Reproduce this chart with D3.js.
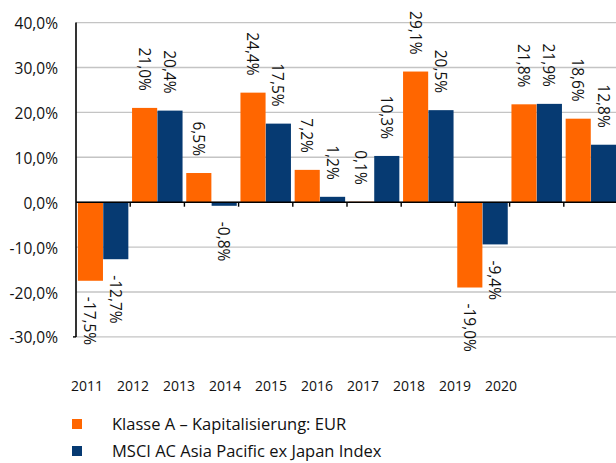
<!DOCTYPE html>
<html>
<head>
<meta charset="utf-8">
<script src="https://cdn.jsdelivr.net/npm/d3@7"></script>
<style>
  body { margin: 0; background: #fff; }
  svg { display: block; font-family: "Open Sans", sans-serif; }
</style>
</head>
<body>
<svg id="mainsvg" width="616" height="463"></svg>
<script>
const years = ['2011', '2012', '2013', '2014', '2015', '2016', '2017', '2018', '2019', '2020'];
const fundValues = [-17.5, 21.0, 6.5, 24.4, 7.2, 0.1, 29.1, -19.0, 21.8, 18.6];
const indexValues = [-12.7, 20.4, -0.8, 17.5, 1.2, 10.3, 20.5, -9.4, 21.9, 12.8];
const seriesNames = ['Klasse A – Kapitalisierung: EUR', 'MSCI AC Asia Pacific ex Japan Index'];
const yTicks = [40, 30, 20, 10, 0, -10, -20, -30];

const colors = ['#ff6600', '#063a72'];

const svg = d3.select('#mainsvg');
const width = +svg.attr('width');

const data = years.map((y, i) => ({ year: y, values: [fundValues[i], indexValues[i]] }));

// German style: comma decimal, plain hyphen for negatives
const deLocale = d3.formatLocale({ decimal: ',', thousands: '.', grouping: [3], currency: ['', ' €'], minus: '-' });
const fmt = v => deLocale.format('.1f')(v) + '%';

const xScale = d3.scaleBand().domain(years).range([76, 618]).padding(0);
const xSub = d3.scaleBand().domain([0, 1]).range([1.6, xScale.bandwidth() - 1.6]).padding(0.01);
const yScale = d3.scaleLinear().domain([-30, 40]).range([336.9, 22.6]);

// x labels sit on their own spacing in the reference
const xLabelScale = d3.scalePoint().domain(years).range([87, 501]);

// gridlines
svg.append('g').selectAll('line').data(yTicks).join('line')
  .attr('x1', 76).attr('x2', width)
  .attr('y1', d => yScale(d)).attr('y2', d => yScale(d))
  .attr('stroke', '#c4c4c4').attr('stroke-width', 1.4);

// y labels
svg.append('g').selectAll('text').data(yTicks).join('text')
  .attr('x', 58).attr('y', d => yScale(d) + 6.5)
  .attr('text-anchor', 'end')
  .attr('font-size', 15.5).attr('fill', '#111')
  .text(d => fmt(d));

// bars
const groups = svg.append('g').selectAll('g').data(data).join('g')
  .attr('transform', d => `translate(${xScale(d.year)},0)`);

groups.selectAll('rect').data(d => d.values).join('rect')
  .attr('x', (d, i) => xSub(i))
  .attr('width', xSub.bandwidth())
  .attr('y', d => yScale(Math.max(0, d)))
  .attr('height', d => Math.abs(yScale(d) - yScale(0)))
  .attr('fill', (d, i) => colors[i]);

// data labels, rotated
groups.selectAll('text').data(d => d.values).join('text')
  .attr('transform', (d, i) => {
    const cx = xSub(i) + xSub.bandwidth() / 2;
    const cy = d >= 0 ? yScale(d) - 17 : yScale(d) + 16;
    return `translate(${cx},${cy}) rotate(90)`;
  })
  .attr('text-anchor', d => d >= 0 ? 'end' : 'start')
  .attr('dominant-baseline', 'central')
  .attr('font-size', 15.5).attr('fill', '#111')
  .text(d => fmt(d));

// axes lines
svg.append('line').attr('x1', 76).attr('x2', 76)
  .attr('y1', yScale(40)).attr('y2', yScale(-30))
  .attr('stroke', '#000').attr('stroke-width', 1.6);
svg.append('line').attr('x1', 73).attr('x2', 76)
  .attr('y1', yScale(-30)).attr('y2', yScale(-30))
  .attr('stroke', '#000').attr('stroke-width', 1.4);
svg.append('line').attr('x1', 76).attr('x2', width)
  .attr('y1', yScale(0)).attr('y2', yScale(0))
  .attr('stroke', '#000').attr('stroke-width', 1.6);
svg.append('g').selectAll('line').data(years.slice(1)).join('line')
  .attr('x1', d => xScale(d)).attr('x2', d => xScale(d))
  .attr('y1', yScale(0)).attr('y2', yScale(0) + 4.5)
  .attr('stroke', '#000').attr('stroke-width', 1.4);

// x labels
svg.append('g').selectAll('text').data(years).join('text')
  .attr('x', d => xLabelScale(d)).attr('y', 391)
  .attr('text-anchor', 'middle')
  .attr('font-size', 14).attr('fill', '#111')
  .text(d => d);

// legend
const legend = svg.append('g').selectAll('g').data(seriesNames).join('g')
  .attr('transform', (d, i) => `translate(72,${419 + i * 27})`);
legend.append('rect').attr('width', 10).attr('height', 10)
  .attr('fill', (d, i) => colors[i]);
legend.append('text').attr('x', 40).attr('y', 11)
  .attr('font-size', 16.5).attr('fill', '#111')
  .text(d => d);
</script>
</body>
</html>
